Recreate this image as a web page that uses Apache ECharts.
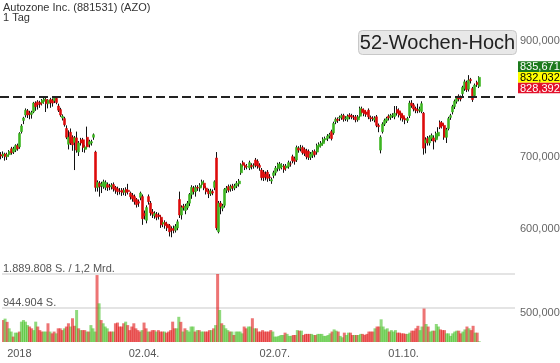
<!DOCTYPE html>
<html><head><meta charset="utf-8">
<script src="https://cdn.jsdelivr.net/npm/echarts@6/dist/echarts.min.js"></script>
<style>html,body{margin:0;padding:0;background:#fff}#c{width:560px;height:363px}</style>
</head><body><div id="c"></div>
<script>
// ---------- data ----------
const titleText = 'Autozone Inc. (881531) (AZO)';
const periodText = '1 Tag';
const firstDay = '2017-12-19';
const holidays = ['2017-12-25','2018-01-01','2018-01-15','2018-02-19','2018-03-30','2018-05-28','2018-07-04','2018-09-03','2018-11-22'];
const emptySlots = 17;

// [open, close, low, high]
const candles = [
[704,702,697,708],[702,705,699,709],[705,701,695,707],[701,704,696,707],[704,709,701,711],
[713,707,704,716],[708,713,705,716],[711,718,708,720],[718,713,710,721],[716,737,713,739],
[740,749,737,752],[758,762,752,764],[767,775,763,778],[774,767,762,777],[770,768,760,774],
[768,771,761,774],[772,787,770,789],[787,781,774,790],[789,784,776,792],[788,785,779,791],
[787,792,783,794],[790,794,786,797],[793,786,772,796],[786,792,778,794],[793,788,779,796],
[792,787,781,795],[791,797,787,799],[795,788,785,798],[782,775,772,786],[776,767,764,779],
[762,765,758,768],[761,751,748,764],[745,731,728,750],[720,731,712,742],[739,722,719,745],
[731,719,710,734],[723,730,681,733],[730,711,707,740],[708,722,702,725],[727,722,718,730],
[727,715,708,730],[712,716,707,719],[731,716,713,748],[720,724,715,727],[722,724,718,727],
[731,735,727,737],[708,656,650,710],[656,663,650,666],[662,657,643,665],[658,661,648,664],
[657,664,654,667],[656,663,652,666],[660,656,651,663],[658,657,652,661],[657,659,653,662],
[660,654,650,663],[656,652,647,658],[654,650,645,657],[651,650,646,655],[652,649,644,655],
[649,652,645,655],[653,649,644,656],[652,650,646,661],[648,643,639,650],[645,640,636,648],
[643,636,632,646],[639,632,628,641],[636,634,629,639],[642,648,638,650],[643,613,605,646],
[620,617,612,624],[611,628,607,631],[643,636,632,646],[634,621,617,637],[622,619,614,626],
[617,620,613,623],[619,615,611,622],[618,616,612,621],[615,605,601,618],[606,608,602,611],
[608,604,600,611],[606,601,597,609],[604,596,590,606],[600,598,589,603],[600,598,594,604],
[598,603,595,606],[601,609,598,612],[639,618,614,650],[618,628,612,631],[630,628,624,633],
[624,630,619,633],[628,634,625,637],[634,646,630,648],[646,656,640,659],[655,650,646,658],
[650,656,643,659],[656,655,651,659],[655,659,650,662],[660,664,656,667],[662,655,652,666],
[655,650,646,658],[651,647,641,654],[647,651,644,654],[650,648,645,653],[656,664,652,666],
[699,601,598,708],[596,634,594,637],[634,629,619,637],[627,630,623,633],[631,653,628,655],
[652,655,648,658],[657,652,649,660],[654,657,650,660],[658,655,651,661],[655,658,652,661],
[658,662,655,665],[661,665,657,668],[677,689,674,691],[692,688,685,695],[688,685,681,691],
[686,686,682,690],[684,692,681,695],[688,686,682,691],[687,687,683,691],[696,688,685,699],
[694,687,683,697],[688,685,680,691],[681,670,666,684],[678,670,665,681],[675,671,666,679],
[678,669,664,681],[671,670,665,675],[665,667,661,670],[673,677,669,680],[677,684,673,687],
[683,690,679,692],[684,690,680,693],[686,687,682,691],[687,682,677,690],[684,687,680,690],
[686,692,683,695],[690,690,686,694],[701,695,691,704],[698,694,689,701],[696,715,693,718],
[714,711,707,717],[714,714,709,719],[715,707,704,718],[712,706,702,715],[710,701,697,713],
[709,700,696,712],[700,705,696,708],[703,708,699,711],[709,704,700,712],[708,718,704,721],
[716,720,712,723],[718,722,715,725],[721,728,718,731],[727,729,723,732],[729,733,725,736],
[733,735,729,738],[740,729,726,743],[738,753,735,756],[756,760,752,763],[760,758,754,763],
[762,763,757,766],[763,766,759,769],[766,760,756,769],[761,762,757,765],[760,765,756,768],
[767,764,760,770],[766,764,760,769],[763,763,759,767],[764,759,755,767],[759,764,756,767],
[765,778,762,781],[777,771,768,781],[775,769,765,778],[772,768,764,775],[775,764,760,778],
[763,761,756,766],[762,761,757,765],[759,762,755,765],[764,750,747,767],[750,748,739,753],
[711,731,706,734],[740,752,737,755],[752,758,749,761],[757,761,754,764],[765,762,758,768],
[763,766,759,769],[766,767,762,770],[764,770,760,782],[776,770,766,782],[774,767,763,778],
[770,762,758,773],[766,760,756,769],[761,759,752,764],[758,761,754,764],[766,787,762,791],
[787,783,779,792],[784,777,773,787],[778,775,770,781],[776,774,770,786],[775,777,771,781],
[773,786,770,790],[770,714,704,772],[722,727,706,731],[729,722,718,733],[722,731,718,734],
[729,734,725,737],[730,725,712,734],[727,737,723,740],[733,739,729,747],[755,747,744,758],
[754,749,745,757],[750,731,727,753],[731,743,722,746],[745,761,742,764],[763,766,759,769],
[772,781,768,784],[781,790,777,793],[790,795,786,798],[799,794,790,802],[797,794,790,800],
[803,814,799,817],[812,824,808,828],[823,810,806,826],[811,827,807,836],[828,826,821,831],
[812,793,789,815],[800,818,796,821],[823,819,815,826],[816,832,813,834]
];

// volume in thousand shares
const volumes = [
610,650,560,380,290,150,260,260,290,565,
610,565,470,430,380,330,565,430,330,290,
290,290,520,290,240,290,240,380,380,330,
380,430,520,430,660,450,890,380,330,330,
330,290,290,470,380,290,1860,1075,610,520,
430,380,290,290,290,520,540,430,430,520,
565,470,330,430,520,380,330,290,330,540,
380,290,290,330,330,290,330,290,290,290,
260,290,330,565,380,380,700,560,290,380,
330,290,430,430,290,330,330,290,290,290,
290,330,330,380,470,1889.808,890,520,470,380,
330,290,290,195,290,290,290,240,430,380,
430,430,660,380,380,290,290,330,290,290,
290,330,290,150,150,170,195,195,260,225,
170,170,195,195,330,315,315,195,225,225,
225,225,195,195,225,225,225,170,170,195,
240,290,350,315,290,170,130,260,195,260,
260,195,195,195,195,225,225,195,225,290,
290,290,380,430,430,630,430,350,380,290,
330,290,330,260,260,240,240,225,225,260,
315,315,380,450,330,430,930,500,430,290,
315,315,500,430,350,330,330,240,240,170,
240,290,315,315,240,290,350,430,380,330,
450,260,260,20
];

const xTickDates = ['2018-01-02','2018-04-02','2018-07-02','2018-10-01'];
const xTickLabels = ['2018','02.04.','02.07.','01.10.'];
const priceTicks = [900, 700, 600, 500];
const high52 = 797.89;
const volMax = 1889.808;
const volTickLabels = ['', '944.904 S.', '1.889.808 S. / 1,2 Mrd.'];
const quoteValues = ['835,671', '832,032', '828,392'];
const lastPrice = 832.032;
const highLabel = '52-Wochen-Hoch';

// ---------- build ----------
const FONT = '"Liberation Sans", Arial, sans-serif';
function fmtDate(d){return d.toISOString().slice(0,10);}
const dates = [];
{
  let d = new Date(firstDay + 'T00:00:00Z');
  while (dates.length < candles.length + emptySlots) {
    const wd = d.getUTCDay();
    const s = fmtDate(d);
    if (wd !== 0 && wd !== 6 && !holidays.includes(s)) dates.push(s);
    d = new Date(d.getTime() + 86400000);
  }
}
const bodies = candles.map(c => [c[0], c[1], Math.min(c[0], c[1]), Math.max(c[0], c[1])]);
const volData = volumes.map((v, i) => ({
  value: v,
  itemStyle: { color: candles[i][1] >= candles[i][0] ? 'rgba(63,191,31,0.58)' : 'rgba(224,16,16,0.58)' }
}));

const GREEN = '#3cb521', RED = '#dd0b0b';
const chart = echarts.init(document.getElementById('c'), null, {renderer: 'canvas'});
const option = {
  animation: false,
  backgroundColor: '#fff',
  grid: [
    {left: 0, right: 45, top: 30, height: 313},
    {left: 0, right: 45, top: 274, height: 68}
  ],
  xAxis: [
    {type: 'category', gridIndex: 0, data: dates, show: false, boundaryGap: true},
    {type: 'category', gridIndex: 1, data: dates, boundaryGap: true,
     axisLine: {show: false}, axisTick: {show: false}, splitLine: {show: false},
     axisLabel: {
       interval: (idx, val) => xTickDates.includes(val),
       formatter: val => { const k = xTickDates.indexOf(val); return k >= 0 ? xTickLabels[k] : ''; },
       color: '#555', fontSize: 11, fontFamily: FONT, margin: 6
     }}
  ],
  yAxis: [
    {type: 'log', logBase: 10, gridIndex: 0, min: 468.7, max: 921.6, show: false},
    {type: 'value', gridIndex: 1, min: 0, max: volMax, interval: volMax / 2, position: 'left',
     axisLine: {show: false}, axisTick: {show: false},
     splitLine: {show: true, showMinLine: false, lineStyle: {color: '#e4e4e4', width: 2}},
     axisLabel: {inside: true, margin: 1, verticalAlign: 'bottom', align: 'left',
       color: '#555', fontSize: 11, fontFamily: FONT,
       formatter: v => volTickLabels[Math.round(v / (volMax / 2))] || ''}}
  ],
  series: [
    {type: 'bar', xAxisIndex: 1, yAxisIndex: 1, data: volData, barWidth: 3, silent: true},
    {type: 'candlestick', name: 'wick', xAxisIndex: 0, yAxisIndex: 0, data: candles, barWidth: 1,
     itemStyle: {color: '#111', color0: '#111', borderColor: '#111', borderColor0: '#111', borderWidth: 1},
     markLine: {
       symbol: ['none', 'none'], silent: true, animation: false,
       data: priceTicks.map(v => ({
         yAxis: v,
         lineStyle: {color: 'rgba(0,0,0,0)', width: 0.1},
         label: {show: true, position: 'end', distance: 5, color: '#666', fontSize: 11, fontFamily: FONT,
                 formatter: () => v.toFixed(3).replace('.', ',')}
       })).concat([{
         yAxis: high52,
         lineStyle: {color: '#222', width: 2, type: [9, 4]},
         label: {show: false}
       }])
     }},
    {type: 'candlestick', name: 'body', xAxisIndex: 0, yAxisIndex: 0, data: bodies, barWidth: 2.5,
     itemStyle: {color: GREEN, color0: RED, borderColor: GREEN, borderColor0: RED, borderWidth: 0.6}}
  ]
};
chart.setOption(option);

const y0 = chart.convertToPixel({yAxisIndex: 0}, lastPrice);
const boxStyles = [
  {bg: '#1c7a1c', fg: '#fff', dy: -10.7},
  {bg: '#ffff00', fg: '#000', dy: 0},
  {bg: '#e3102a', fg: '#fff', dy: 10.7}
];
const graphics = [
  {type: 'text', left: 3, top: 2, style: {text: titleText + '\n' + periodText, fontSize: 11, lineHeight: 10, fontFamily: FONT, fill: '#333'}},
  {type: 'rect', shape: {x: 358.5, y: 30.5, width: 158, height: 24, r: 4}, style: {fill: '#e8e8e8', stroke: '#c8c8c8', lineWidth: 1}},
  {type: 'text', x: 437.5, y: 43, style: {text: highLabel, fontSize: 20, fontFamily: FONT, fill: '#222', align: 'center', verticalAlign: 'middle'}}
];
boxStyles.forEach((b, k) => {
  const cy = y0 + b.dy;
  graphics.push({type: 'rect', shape: {x: 518, y: cy - 5.3, width: 42, height: 10.6}, style: {fill: b.bg}});
  graphics.push({type: 'text', x: 520, y: cy + 0.5, style: {text: quoteValues[k], fontSize: 11, fontFamily: FONT, fill: b.fg, verticalAlign: 'middle', align: 'left'}});
});
chart.setOption({graphic: graphics});
</script>
</body></html>
